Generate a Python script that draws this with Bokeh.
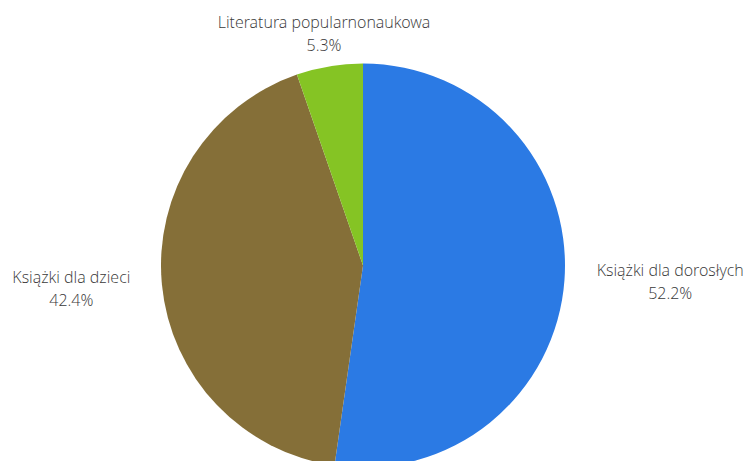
import math
from bokeh.plotting import figure
from bokeh.models import ColumnDataSource
from bokeh.core.properties import value
from bokeh.embed import file_html
from bokeh.resources import INLINE

categories = ["Książki dla dorosłych", "Książki dla dzieci", "Literatura popularnonaukowa"]
shares = [52.2, 42.4, 5.3]
colors = ["#2b7ae4", "#856f38", "#85c424"]

W, H = 746, 461
cx, cy, R = 362.5, 196.0, 202.0
label_r = [308.0, 293.0, 235.0]
label_dy = [5.5, 5.5, 0.0]

total = sum(shares)
starts, ends, mids = [], [], []
a = math.pi / 2
for s in shares:
    span = 2 * math.pi * s / total
    starts.append(a)
    ends.append(a - span)
    mids.append(a - span / 2)
    a -= span

src = ColumnDataSource(dict(start=starts, end=ends, color=colors,
                            x=[cx] * 3, y=[cy] * 3))

p = figure(width=W, height=H, x_range=(0, W), y_range=(0, H),
           output_backend="svg", toolbar_location=None, min_border=0)
p.axis.visible = False
p.grid.visible = False
p.outline_line_color = None
p.background_fill_color = "white"
p.border_fill_color = "white"

p.wedge(x="x", y="y", radius=R, start_angle="end", end_angle="start",
        fill_color="color", line_color=None, source=src)

lx, ly1, ly2, t1, t2 = [], [], [], [], []
for cat, s, m, r, dy in zip(categories, shares, mids, label_r, label_dy):
    x = cx + r * math.cos(m)
    y = cy + r * math.sin(m) + dy
    lx.append(x)
    ly1.append(y + 11.5)
    ly2.append(y - 11.5)
    t1.append(cat)
    t2.append(f"{s:.1f}%")

for ys, ts in ((ly1, t1), (ly2, t2)):
    p.text(x=lx, y=ys, text=ts, text_align="center", text_baseline="middle",
           text_font=value("'Open Sans Light', 'Open Sans'"), text_font_size="16px",
           text_color="#3a3a3a")

open("out.html", "w").write(file_html(p, INLINE))
